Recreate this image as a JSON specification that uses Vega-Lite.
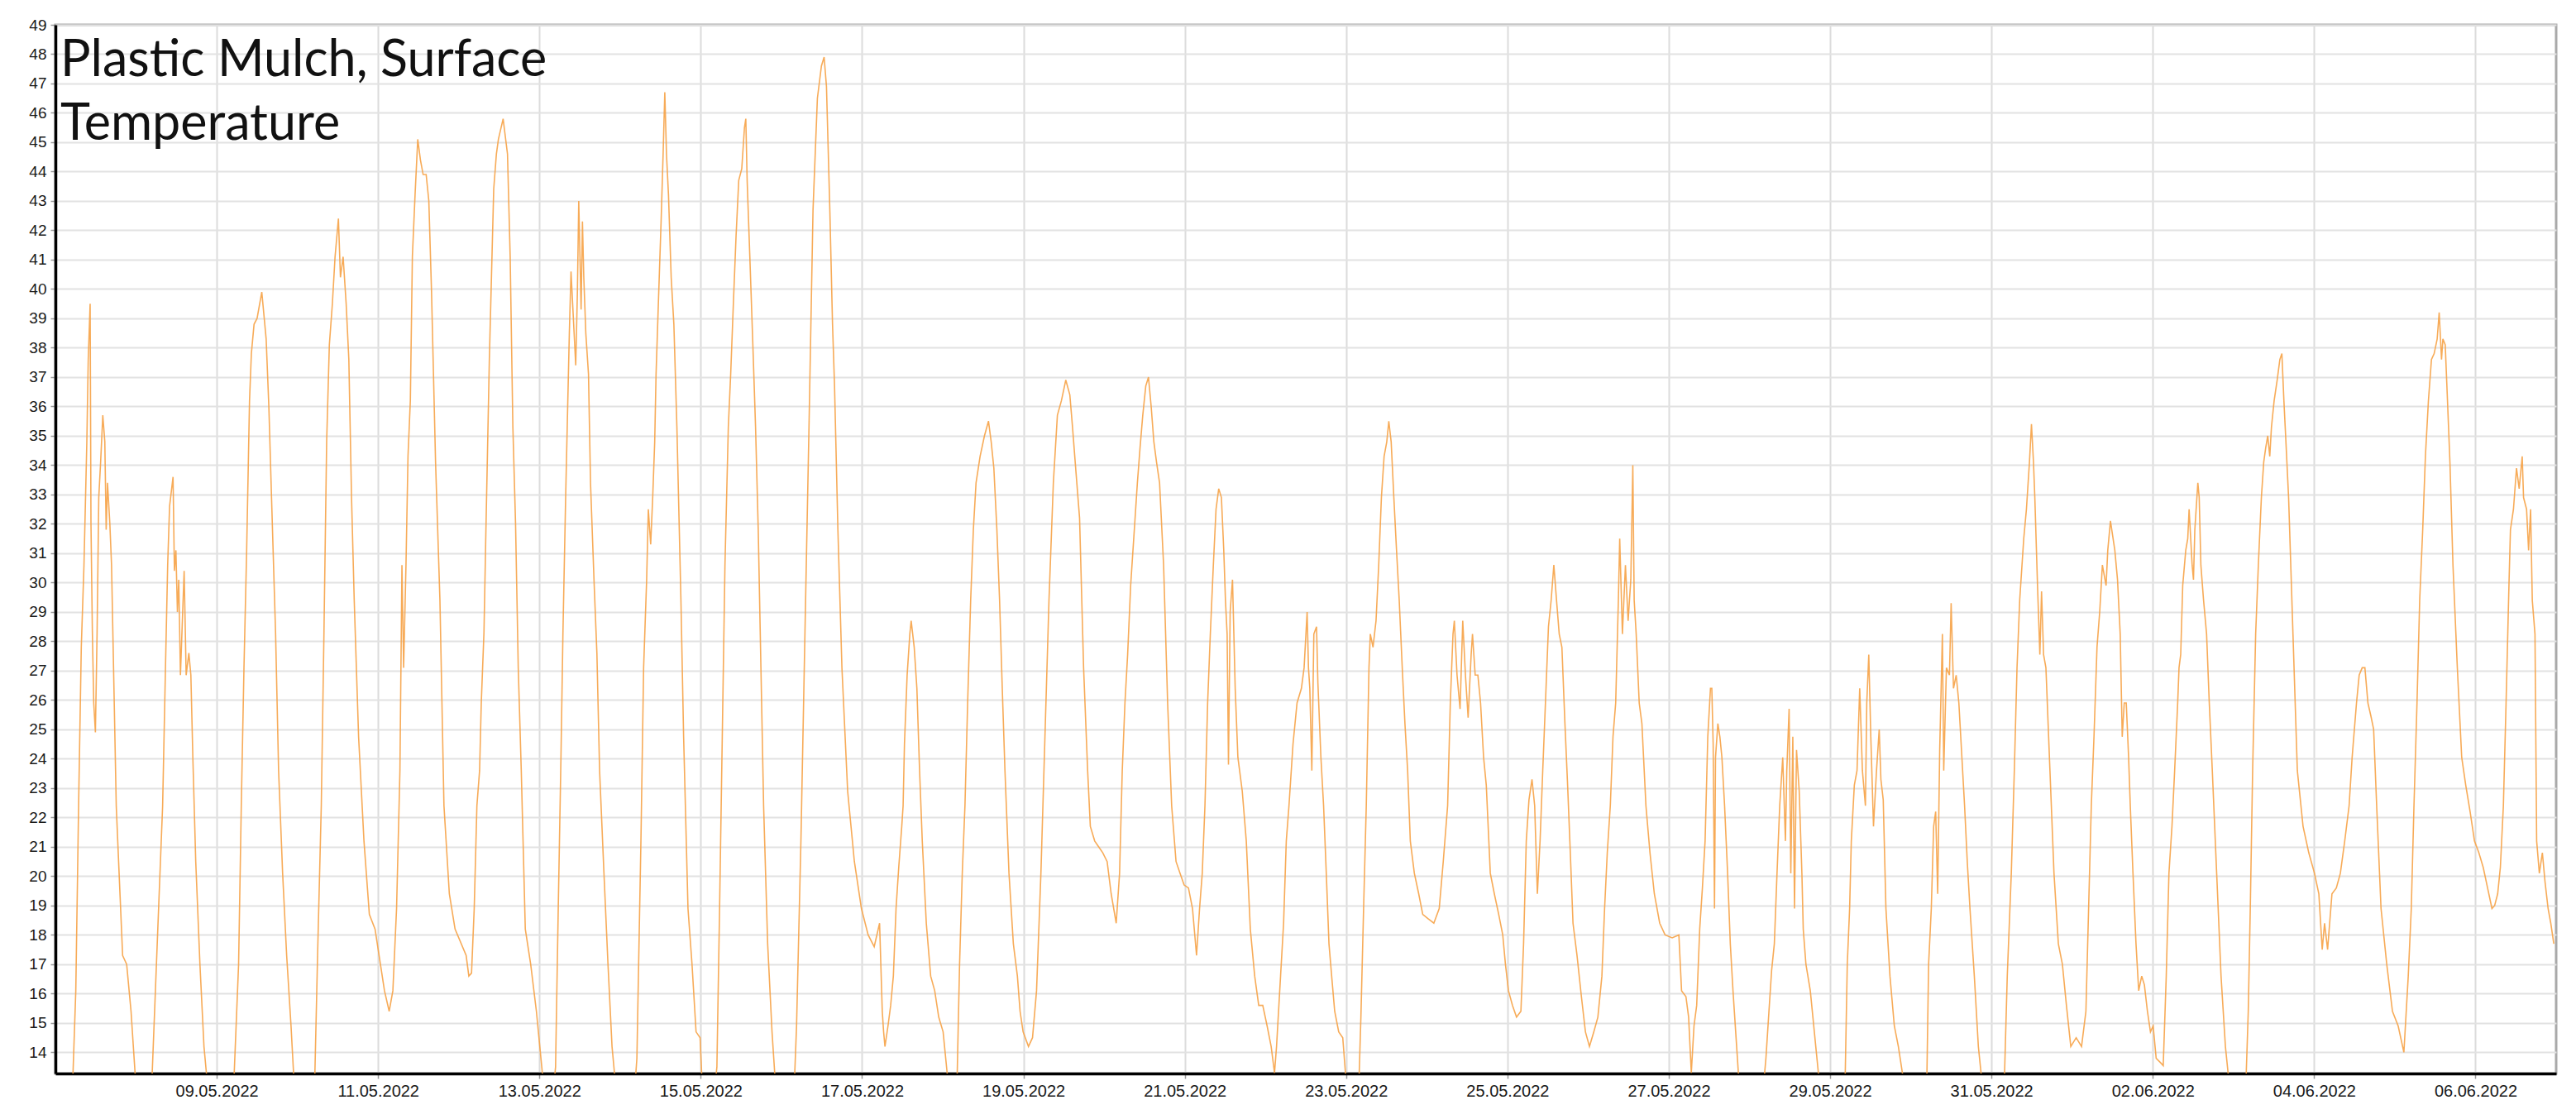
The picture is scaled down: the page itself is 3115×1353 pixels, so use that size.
{
"$schema": "https://vega.github.io/schema/vega-lite/v6.json",
"width": 3024, "height": 1268,
"autosize": {"type": "none"},
"padding": {"left": 67, "top": 30, "right": 24, "bottom": 55},
"background": "white",
"config": {"view": {"stroke": "#a9a9a9", "strokeWidth": 3}, "axis": {"labelOverlap": false}, "axisY": {"labelOverlap": false}},
"layer": [
{"data": {"values": [
{"t":"2022-05-07T05:00","v":12.5},{"t":"2022-05-07T06:04","v":16.1},{"t":"2022-05-07T06:54","v":22.4},{"t":"2022-05-07T07:42","v":27.8},{"t":"2022-05-07T08:30","v":30.6},{"t":"2022-05-07T09:21","v":34.8},{"t":"2022-05-07T09:46","v":37.6},{"t":"2022-05-07T10:20","v":39.5},{"t":"2022-05-07T10:35","v":32.0},{"t":"2022-05-07T11:00","v":28.3},{"t":"2022-05-07T11:24","v":25.9},{"t":"2022-05-07T11:54","v":24.9},{"t":"2022-05-07T12:24","v":28.3},{"t":"2022-05-07T12:54","v":32.9},{"t":"2022-05-07T13:27","v":34.1},{"t":"2022-05-07T14:06","v":35.7},{"t":"2022-05-07T14:42","v":34.8},{"t":"2022-05-07T15:06","v":31.8},{"t":"2022-05-07T15:30","v":33.4},{"t":"2022-05-07T16:12","v":32.0},{"t":"2022-05-07T16:42","v":30.6},{"t":"2022-05-07T17:18","v":27.1},{"t":"2022-05-07T18:06","v":22.4},{"t":"2022-05-07T18:57","v":20.1},{"t":"2022-05-07T20:00","v":17.3},{"t":"2022-05-07T21:12","v":17.0},{"t":"2022-05-07T22:30","v":15.4},{"t":"2022-05-07T23:42","v":13.3},
{"t":"2022-05-08T00:30","v":12.5},{"t":"2022-05-08T04:12","v":12.5},{"t":"2022-05-08T04:48","v":13.3},{"t":"2022-05-08T06:42","v":18.9},{"t":"2022-05-08T07:54","v":22.4},{"t":"2022-05-08T08:42","v":26.85},{"t":"2022-05-08T09:24","v":30.6},{"t":"2022-05-08T09:58","v":32.6},{"t":"2022-05-08T11:00","v":33.6},{"t":"2022-05-08T11:24","v":30.4},{"t":"2022-05-08T11:51","v":31.1},{"t":"2022-05-08T12:18","v":29.0},{"t":"2022-05-08T12:42","v":30.1},{"t":"2022-05-08T13:12","v":26.85},{"t":"2022-05-08T14:18","v":30.4},{"t":"2022-05-08T14:54","v":26.85},{"t":"2022-05-08T15:42","v":27.6},{"t":"2022-05-08T16:18","v":26.85},{"t":"2022-05-08T16:54","v":24.0},{"t":"2022-05-08T17:45","v":20.5},{"t":"2022-05-08T19:00","v":17.0},{"t":"2022-05-08T20:12","v":14.2},{"t":"2022-05-08T21:00","v":13.2},{"t":"2022-05-08T21:54","v":12.5},
{"t":"2022-05-09T04:24","v":12.5},{"t":"2022-05-09T05:12","v":13.3},{"t":"2022-05-09T06:30","v":17.0},{"t":"2022-05-09T07:18","v":22.4},{"t":"2022-05-09T08:06","v":27.1},{"t":"2022-05-09T08:54","v":31.1},{"t":"2022-05-09T09:45","v":36.2},{"t":"2022-05-09T10:18","v":37.8},{"t":"2022-05-09T11:06","v":38.8},{"t":"2022-05-09T12:00","v":39.0},{"t":"2022-05-09T13:24","v":39.9},{"t":"2022-05-09T14:42","v":38.3},{"t":"2022-05-09T15:30","v":36.0},{"t":"2022-05-09T16:18","v":32.9},{"t":"2022-05-09T17:30","v":28.3},{"t":"2022-05-09T18:24","v":23.6},{"t":"2022-05-09T19:36","v":20.1},{"t":"2022-05-09T20:48","v":17.3},{"t":"2022-05-09T22:06","v":14.9},{"t":"2022-05-09T22:54","v":13.2},{"t":"2022-05-09T23:42","v":12.5},
{"t":"2022-05-10T04:12","v":12.5},{"t":"2022-05-10T05:12","v":13.3},{"t":"2022-05-10T06:00","v":17.3},{"t":"2022-05-10T07:06","v":22.4},{"t":"2022-05-10T07:54","v":28.3},{"t":"2022-05-10T08:42","v":34.8},{"t":"2022-05-10T09:30","v":38.1},{"t":"2022-05-10T10:24","v":39.5},{"t":"2022-05-10T11:12","v":41.1},{"t":"2022-05-10T12:12","v":42.4},{"t":"2022-05-10T12:48","v":40.4},{"t":"2022-05-10T13:36","v":41.1},{"t":"2022-05-10T14:30","v":39.5},{"t":"2022-05-10T15:18","v":37.6},{"t":"2022-05-10T16:06","v":32.9},{"t":"2022-05-10T16:54","v":29.4},{"t":"2022-05-10T18:12","v":24.75},{"t":"2022-05-10T19:48","v":21.2},{"t":"2022-05-10T21:24","v":18.7},{"t":"2022-05-10T23:06","v":18.2},
{"t":"2022-05-11T00:18","v":17.3},{"t":"2022-05-11T01:54","v":16.1},{"t":"2022-05-11T03:18","v":15.4},{"t":"2022-05-11T04:24","v":16.1},{"t":"2022-05-11T05:30","v":18.9},{"t":"2022-05-11T06:30","v":23.6},{"t":"2022-05-11T07:06","v":30.6},{"t":"2022-05-11T07:36","v":27.1},{"t":"2022-05-11T08:18","v":30.6},{"t":"2022-05-11T08:54","v":34.3},{"t":"2022-05-11T09:36","v":36.2},{"t":"2022-05-11T10:12","v":41.1},{"t":"2022-05-11T11:00","v":43.2},{"t":"2022-05-11T11:48","v":45.1},{"t":"2022-05-11T12:36","v":44.4},{"t":"2022-05-11T13:24","v":43.9},{"t":"2022-05-11T14:18","v":43.9},{"t":"2022-05-11T15:06","v":43.0},{"t":"2022-05-11T15:54","v":39.9},{"t":"2022-05-11T17:06","v":34.1},{"t":"2022-05-11T18:24","v":29.4},{"t":"2022-05-11T19:36","v":22.4},{"t":"2022-05-11T21:12","v":19.4},{"t":"2022-05-11T22:54","v":18.2},
{"t":"2022-05-12T02:12","v":17.3},{"t":"2022-05-12T03:00","v":16.6},{"t":"2022-05-12T03:48","v":16.7},{"t":"2022-05-12T04:36","v":18.9},{"t":"2022-05-12T05:24","v":22.4},{"t":"2022-05-12T06:12","v":23.6},{"t":"2022-05-12T06:42","v":25.9},{"t":"2022-05-12T07:30","v":28.3},{"t":"2022-05-12T08:00","v":31.3},{"t":"2022-05-12T09:06","v":37.6},{"t":"2022-05-12T10:24","v":43.4},{"t":"2022-05-12T11:12","v":44.6},{"t":"2022-05-12T11:48","v":45.1},{"t":"2022-05-12T13:12","v":45.8},{"t":"2022-05-12T14:30","v":44.6},{"t":"2022-05-12T15:18","v":41.1},{"t":"2022-05-12T16:06","v":35.3},{"t":"2022-05-12T16:54","v":32.0},{"t":"2022-05-12T17:42","v":27.1},{"t":"2022-05-12T18:36","v":23.6},{"t":"2022-05-12T19:48","v":18.2},{"t":"2022-05-12T21:24","v":17.0},{"t":"2022-05-12T23:06","v":15.4},
{"t":"2022-05-13T00:42","v":13.5},{"t":"2022-05-13T01:30","v":12.5},{"t":"2022-05-13T04:00","v":12.5},{"t":"2022-05-13T04:48","v":13.5},{"t":"2022-05-13T05:36","v":18.9},{"t":"2022-05-13T06:24","v":24.0},{"t":"2022-05-13T07:00","v":28.3},{"t":"2022-05-13T07:48","v":32.9},{"t":"2022-05-13T08:54","v":38.5},{"t":"2022-05-13T09:24","v":40.6},{"t":"2022-05-13T10:06","v":39.0},{"t":"2022-05-13T10:48","v":37.4},{"t":"2022-05-13T11:18","v":39.9},{"t":"2022-05-13T11:42","v":43.0},{"t":"2022-05-13T12:24","v":39.3},{"t":"2022-05-13T12:48","v":42.3},{"t":"2022-05-13T13:12","v":40.4},{"t":"2022-05-13T13:48","v":38.5},{"t":"2022-05-13T14:36","v":37.1},{"t":"2022-05-13T15:12","v":33.4},{"t":"2022-05-13T16:18","v":29.9},{"t":"2022-05-13T17:06","v":27.6},{"t":"2022-05-13T17:54","v":23.6},{"t":"2022-05-13T19:12","v":20.1},{"t":"2022-05-13T20:24","v":17.0},{"t":"2022-05-13T21:36","v":14.2},{"t":"2022-05-13T22:24","v":13.2},{"t":"2022-05-13T23:18","v":12.5},
{"t":"2022-05-14T04:12","v":12.5},{"t":"2022-05-14T05:00","v":13.8},{"t":"2022-05-14T06:12","v":21.2},{"t":"2022-05-14T07:00","v":27.1},{"t":"2022-05-14T07:54","v":30.1},{"t":"2022-05-14T08:24","v":32.5},{"t":"2022-05-14T09:06","v":31.3},{"t":"2022-05-14T09:42","v":32.9},{"t":"2022-05-14T10:18","v":34.8},{"t":"2022-05-14T10:42","v":37.1},{"t":"2022-05-14T11:30","v":39.9},{"t":"2022-05-14T12:12","v":42.3},{"t":"2022-05-14T12:48","v":44.6},{"t":"2022-05-14T13:18","v":46.7},{"t":"2022-05-14T13:48","v":44.6},{"t":"2022-05-14T14:24","v":43.2},{"t":"2022-05-14T15:12","v":40.4},{"t":"2022-05-14T16:00","v":38.8},{"t":"2022-05-14T16:54","v":35.3},{"t":"2022-05-14T18:06","v":29.4},{"t":"2022-05-14T18:54","v":24.75},{"t":"2022-05-14T20:12","v":18.9},{"t":"2022-05-14T21:24","v":17.0},{"t":"2022-05-14T22:36","v":14.7},{"t":"2022-05-14T23:48","v":14.5},
{"t":"2022-05-15T00:18","v":13.2},{"t":"2022-05-15T01:06","v":12.5},{"t":"2022-05-15T03:54","v":12.5},{"t":"2022-05-15T04:48","v":13.5},{"t":"2022-05-15T05:36","v":18.9},{"t":"2022-05-15T06:24","v":24.75},{"t":"2022-05-15T07:12","v":30.6},{"t":"2022-05-15T08:12","v":35.3},{"t":"2022-05-15T08:54","v":37.1},{"t":"2022-05-15T09:42","v":39.5},{"t":"2022-05-15T10:30","v":41.8},{"t":"2022-05-15T11:18","v":43.7},{"t":"2022-05-15T12:12","v":44.1},{"t":"2022-05-15T13:00","v":45.5},{"t":"2022-05-15T13:24","v":45.8},{"t":"2022-05-15T13:48","v":43.7},{"t":"2022-05-15T14:36","v":41.1},{"t":"2022-05-15T15:30","v":38.1},{"t":"2022-05-15T16:18","v":35.3},{"t":"2022-05-15T17:06","v":31.8},{"t":"2022-05-15T17:54","v":27.1},{"t":"2022-05-15T18:42","v":22.4},{"t":"2022-05-15T19:54","v":17.7},{"t":"2022-05-15T21:12","v":14.7},{"t":"2022-05-15T22:00","v":13.3},{"t":"2022-05-15T22:48","v":12.5},
{"t":"2022-05-16T03:42","v":12.5},{"t":"2022-05-16T04:30","v":14.9},{"t":"2022-05-16T05:48","v":21.2},{"t":"2022-05-16T07:00","v":28.3},{"t":"2022-05-16T08:12","v":35.3},{"t":"2022-05-16T09:24","v":42.7},{"t":"2022-05-16T10:42","v":46.5},{"t":"2022-05-16T11:54","v":47.6},{"t":"2022-05-16T12:42","v":47.9},{"t":"2022-05-16T13:24","v":46.9},{"t":"2022-05-16T14:24","v":42.7},{"t":"2022-05-16T15:12","v":38.8},{"t":"2022-05-16T15:48","v":36.7},{"t":"2022-05-16T16:48","v":31.8},{"t":"2022-05-16T18:00","v":27.1},{"t":"2022-05-16T19:42","v":22.9},{"t":"2022-05-16T21:42","v":20.5},{"t":"2022-05-16T23:48","v":18.9},
{"t":"2022-05-17T01:48","v":18.0},{"t":"2022-05-17T03:36","v":17.6},{"t":"2022-05-17T05:12","v":18.4},{"t":"2022-05-17T06:00","v":15.4},{"t":"2022-05-17T06:24","v":14.7},{"t":"2022-05-17T06:48","v":14.2},{"t":"2022-05-17T07:42","v":14.9},{"t":"2022-05-17T08:30","v":15.6},{"t":"2022-05-17T09:18","v":16.6},{"t":"2022-05-17T10:06","v":18.9},{"t":"2022-05-17T10:54","v":20.3},{"t":"2022-05-17T11:48","v":21.7},{"t":"2022-05-17T12:12","v":22.4},{"t":"2022-05-17T12:36","v":24.5},{"t":"2022-05-17T13:24","v":26.85},{"t":"2022-05-17T14:12","v":28.25},{"t":"2022-05-17T14:36","v":28.7},{"t":"2022-05-17T15:30","v":27.8},{"t":"2022-05-17T16:18","v":26.4},{"t":"2022-05-17T17:06","v":23.6},{"t":"2022-05-17T17:54","v":21.2},{"t":"2022-05-17T19:06","v":18.4},{"t":"2022-05-17T20:24","v":16.6},{"t":"2022-05-17T21:36","v":16.1},{"t":"2022-05-17T22:48","v":15.2},
{"t":"2022-05-18T00:06","v":14.7},{"t":"2022-05-18T01:18","v":13.3},{"t":"2022-05-18T02:06","v":12.5},{"t":"2022-05-18T03:48","v":12.5},{"t":"2022-05-18T04:18","v":13.3},{"t":"2022-05-18T05:00","v":17.0},{"t":"2022-05-18T05:48","v":20.1},{"t":"2022-05-18T06:36","v":22.4},{"t":"2022-05-18T07:24","v":25.9},{"t":"2022-05-18T08:18","v":29.4},{"t":"2022-05-18T09:06","v":31.8},{"t":"2022-05-18T09:54","v":33.4},{"t":"2022-05-18T11:06","v":34.3},{"t":"2022-05-18T12:24","v":35.0},{"t":"2022-05-18T13:36","v":35.5},{"t":"2022-05-18T14:24","v":34.8},{"t":"2022-05-18T15:12","v":33.9},{"t":"2022-05-18T16:06","v":31.8},{"t":"2022-05-18T16:54","v":29.4},{"t":"2022-05-18T17:42","v":26.4},{"t":"2022-05-18T18:30","v":23.6},{"t":"2022-05-18T19:42","v":20.1},{"t":"2022-05-18T21:00","v":17.7},{"t":"2022-05-18T22:12","v":16.6},{"t":"2022-05-18T23:00","v":15.4},{"t":"2022-05-18T23:54","v":14.7},
{"t":"2022-05-19T01:30","v":14.2},{"t":"2022-05-19T02:42","v":14.5},{"t":"2022-05-19T03:54","v":16.1},{"t":"2022-05-19T05:12","v":20.1},{"t":"2022-05-19T06:24","v":24.75},{"t":"2022-05-19T07:36","v":29.4},{"t":"2022-05-19T08:54","v":33.4},{"t":"2022-05-19T10:06","v":35.7},{"t":"2022-05-19T11:18","v":36.2},{"t":"2022-05-19T12:36","v":36.9},{"t":"2022-05-19T13:48","v":36.4},{"t":"2022-05-19T14:36","v":35.3},{"t":"2022-05-19T15:24","v":34.1},{"t":"2022-05-19T16:42","v":32.2},{"t":"2022-05-19T17:54","v":27.1},{"t":"2022-05-19T19:06","v":23.6},{"t":"2022-05-19T19:54","v":21.7},{"t":"2022-05-19T21:12","v":21.2},{"t":"2022-05-19T22:24","v":21.0},{"t":"2022-05-19T23:36","v":20.8},
{"t":"2022-05-20T00:54","v":20.5},{"t":"2022-05-20T02:06","v":19.4},{"t":"2022-05-20T03:36","v":18.4},{"t":"2022-05-20T04:36","v":20.1},{"t":"2022-05-20T05:24","v":23.6},{"t":"2022-05-20T06:12","v":25.9},{"t":"2022-05-20T07:00","v":27.55},{"t":"2022-05-20T07:54","v":29.9},{"t":"2022-05-20T09:06","v":32.0},{"t":"2022-05-20T09:54","v":33.4},{"t":"2022-05-20T10:42","v":34.6},{"t":"2022-05-20T11:30","v":35.7},{"t":"2022-05-20T12:24","v":36.7},{"t":"2022-05-20T13:12","v":37.0},{"t":"2022-05-20T14:00","v":36.0},{"t":"2022-05-20T14:48","v":34.8},{"t":"2022-05-20T15:36","v":34.1},{"t":"2022-05-20T16:30","v":33.4},{"t":"2022-05-20T17:42","v":30.6},{"t":"2022-05-20T18:54","v":25.9},{"t":"2022-05-20T20:06","v":22.4},{"t":"2022-05-20T21:24","v":20.5},{"t":"2022-05-20T22:36","v":20.1},{"t":"2022-05-20T23:48","v":19.7},
{"t":"2022-05-21T01:06","v":19.6},{"t":"2022-05-21T02:18","v":18.9},{"t":"2022-05-21T03:30","v":17.3},{"t":"2022-05-21T04:24","v":18.9},{"t":"2022-05-21T05:12","v":20.1},{"t":"2022-05-21T06:00","v":22.4},{"t":"2022-05-21T06:48","v":25.9},{"t":"2022-05-21T07:36","v":28.25},{"t":"2022-05-21T08:30","v":30.6},{"t":"2022-05-21T09:18","v":32.5},{"t":"2022-05-21T10:06","v":33.2},{"t":"2022-05-21T10:54","v":32.9},{"t":"2022-05-21T11:36","v":31.1},{"t":"2022-05-21T12:06","v":29.4},{"t":"2022-05-21T12:36","v":28.25},{"t":"2022-05-21T13:00","v":23.8},{"t":"2022-05-21T13:30","v":29.0},{"t":"2022-05-21T14:12","v":30.1},{"t":"2022-05-21T14:36","v":28.25},{"t":"2022-05-21T15:00","v":26.4},{"t":"2022-05-21T15:48","v":24.05},{"t":"2022-05-21T17:06","v":22.9},{"t":"2022-05-21T18:18","v":21.2},{"t":"2022-05-21T19:30","v":18.2},{"t":"2022-05-21T20:48","v":16.6},{"t":"2022-05-21T22:00","v":15.6},{"t":"2022-05-21T23:12","v":15.6},
{"t":"2022-05-22T00:30","v":14.9},{"t":"2022-05-22T01:42","v":14.2},{"t":"2022-05-22T02:42","v":13.3},{"t":"2022-05-22T03:18","v":14.2},{"t":"2022-05-22T04:30","v":16.6},{"t":"2022-05-22T05:24","v":18.4},{"t":"2022-05-22T06:12","v":21.2},{"t":"2022-05-22T07:00","v":22.4},{"t":"2022-05-22T08:12","v":24.5},{"t":"2022-05-22T09:24","v":25.9},{"t":"2022-05-22T10:42","v":26.4},{"t":"2022-05-22T11:30","v":27.1},{"t":"2022-05-22T12:24","v":29.0},{"t":"2022-05-22T12:48","v":27.1},{"t":"2022-05-22T13:12","v":26.4},{"t":"2022-05-22T13:48","v":23.6},{"t":"2022-05-22T14:24","v":28.25},{"t":"2022-05-22T15:12","v":28.5},{"t":"2022-05-22T15:36","v":26.6},{"t":"2022-05-22T16:30","v":24.05},{"t":"2022-05-22T17:18","v":22.4},{"t":"2022-05-22T18:06","v":20.1},{"t":"2022-05-22T18:54","v":17.7},{"t":"2022-05-22T19:42","v":16.6},{"t":"2022-05-22T20:36","v":15.4},{"t":"2022-05-22T21:48","v":14.7},{"t":"2022-05-22T23:00","v":14.5},{"t":"2022-05-22T23:48","v":13.3},
{"t":"2022-05-23T00:42","v":12.5},{"t":"2022-05-23T03:06","v":12.5},{"t":"2022-05-23T03:54","v":13.3},{"t":"2022-05-23T04:24","v":15.2},{"t":"2022-05-23T05:12","v":18.9},{"t":"2022-05-23T06:00","v":22.4},{"t":"2022-05-23T06:48","v":27.1},{"t":"2022-05-23T07:12","v":28.25},{"t":"2022-05-23T08:00","v":27.8},{"t":"2022-05-23T08:54","v":28.7},{"t":"2022-05-23T09:42","v":30.6},{"t":"2022-05-23T10:30","v":32.9},{"t":"2022-05-23T11:18","v":34.3},{"t":"2022-05-23T12:06","v":34.8},{"t":"2022-05-23T12:42","v":35.5},{"t":"2022-05-23T13:24","v":34.8},{"t":"2022-05-23T14:12","v":32.9},{"t":"2022-05-23T15:00","v":31.1},{"t":"2022-05-23T15:48","v":29.4},{"t":"2022-05-23T16:42","v":27.1},{"t":"2022-05-23T17:30","v":25.2},{"t":"2022-05-23T18:18","v":23.6},{"t":"2022-05-23T19:06","v":21.2},{"t":"2022-05-23T20:18","v":20.1},{"t":"2022-05-23T21:36","v":19.4},{"t":"2022-05-23T22:48","v":18.7},
{"t":"2022-05-24T00:24","v":18.55},{"t":"2022-05-24T02:06","v":18.4},{"t":"2022-05-24T03:42","v":18.9},{"t":"2022-05-24T04:54","v":20.5},{"t":"2022-05-24T06:12","v":22.4},{"t":"2022-05-24T07:00","v":25.9},{"t":"2022-05-24T07:48","v":28.25},{"t":"2022-05-24T08:12","v":28.7},{"t":"2022-05-24T09:00","v":26.85},{"t":"2022-05-24T09:54","v":25.7},{"t":"2022-05-24T10:42","v":28.7},{"t":"2022-05-24T11:30","v":26.85},{"t":"2022-05-24T12:18","v":25.4},{"t":"2022-05-24T13:12","v":27.55},{"t":"2022-05-24T13:36","v":28.25},{"t":"2022-05-24T14:24","v":26.85},{"t":"2022-05-24T15:12","v":26.85},{"t":"2022-05-24T16:00","v":25.9},{"t":"2022-05-24T16:54","v":24.05},{"t":"2022-05-24T17:42","v":23.1},{"t":"2022-05-24T18:54","v":20.1},{"t":"2022-05-24T20:06","v":19.4},{"t":"2022-05-24T21:24","v":18.7},{"t":"2022-05-24T22:36","v":18.0},{"t":"2022-05-24T23:24","v":17.0},
{"t":"2022-05-25T00:18","v":16.1},{"t":"2022-05-25T01:30","v":15.6},{"t":"2022-05-25T02:42","v":15.2},{"t":"2022-05-25T04:00","v":15.4},{"t":"2022-05-25T04:48","v":17.7},{"t":"2022-05-25T05:36","v":21.2},{"t":"2022-05-25T06:24","v":22.6},{"t":"2022-05-25T07:18","v":23.3},{"t":"2022-05-25T08:06","v":22.4},{"t":"2022-05-25T08:54","v":19.4},{"t":"2022-05-25T09:42","v":21.2},{"t":"2022-05-25T10:30","v":23.6},{"t":"2022-05-25T11:18","v":25.9},{"t":"2022-05-25T12:12","v":28.5},{"t":"2022-05-25T13:00","v":29.4},{"t":"2022-05-25T13:48","v":30.6},{"t":"2022-05-25T14:36","v":29.4},{"t":"2022-05-25T15:24","v":28.25},{"t":"2022-05-25T16:12","v":27.8},{"t":"2022-05-25T17:06","v":25.2},{"t":"2022-05-25T17:54","v":23.1},{"t":"2022-05-25T18:42","v":20.8},{"t":"2022-05-25T19:30","v":18.4},{"t":"2022-05-25T20:42","v":17.3},{"t":"2022-05-25T22:00","v":15.9},{"t":"2022-05-25T23:12","v":14.7},
{"t":"2022-05-26T00:24","v":14.2},{"t":"2022-05-26T01:42","v":14.7},{"t":"2022-05-26T02:54","v":15.2},{"t":"2022-05-26T04:06","v":16.6},{"t":"2022-05-26T04:54","v":18.9},{"t":"2022-05-26T05:42","v":20.8},{"t":"2022-05-26T06:36","v":22.4},{"t":"2022-05-26T07:24","v":24.75},{"t":"2022-05-26T08:12","v":25.9},{"t":"2022-05-26T09:00","v":29.4},{"t":"2022-05-26T09:24","v":31.5},{"t":"2022-05-26T10:12","v":28.25},{"t":"2022-05-26T11:06","v":30.6},{"t":"2022-05-26T11:54","v":28.7},{"t":"2022-05-26T12:42","v":30.1},{"t":"2022-05-26T13:18","v":34.0},{"t":"2022-05-26T13:42","v":29.4},{"t":"2022-05-26T14:18","v":28.25},{"t":"2022-05-26T15:12","v":25.9},{"t":"2022-05-26T16:00","v":25.2},{"t":"2022-05-26T17:12","v":22.4},{"t":"2022-05-26T18:24","v":20.8},{"t":"2022-05-26T19:42","v":19.4},{"t":"2022-05-26T21:18","v":18.4},{"t":"2022-05-26T22:54","v":18.0},
{"t":"2022-05-27T01:00","v":17.9},{"t":"2022-05-27T03:00","v":18.0},{"t":"2022-05-27T03:48","v":16.1},{"t":"2022-05-27T05:06","v":15.9},{"t":"2022-05-27T05:54","v":15.2},{"t":"2022-05-27T06:42","v":13.3},{"t":"2022-05-27T07:30","v":14.9},{"t":"2022-05-27T08:18","v":15.6},{"t":"2022-05-27T09:12","v":18.2},{"t":"2022-05-27T10:00","v":19.6},{"t":"2022-05-27T10:48","v":21.2},{"t":"2022-05-27T11:36","v":24.75},{"t":"2022-05-27T12:24","v":26.4},{"t":"2022-05-27T12:48","v":26.4},{"t":"2022-05-27T13:12","v":24.5},{"t":"2022-05-27T13:36","v":18.9},{"t":"2022-05-27T13:54","v":24.05},{"t":"2022-05-27T14:36","v":25.2},{"t":"2022-05-27T15:12","v":24.75},{"t":"2022-05-27T15:48","v":24.05},{"t":"2022-05-27T16:36","v":22.4},{"t":"2022-05-27T17:30","v":20.1},{"t":"2022-05-27T18:18","v":17.7},{"t":"2022-05-27T19:06","v":16.1},{"t":"2022-05-27T19:54","v":14.7},{"t":"2022-05-27T20:42","v":13.3},{"t":"2022-05-27T21:30","v":12.5},
{"t":"2022-05-28T03:54","v":12.5},{"t":"2022-05-28T04:54","v":13.8},{"t":"2022-05-28T05:48","v":15.4},{"t":"2022-05-28T06:36","v":16.8},{"t":"2022-05-28T07:24","v":17.7},{"t":"2022-05-28T08:12","v":20.1},{"t":"2022-05-28T09:00","v":22.4},{"t":"2022-05-28T09:54","v":24.05},{"t":"2022-05-28T10:42","v":21.2},{"t":"2022-05-28T11:06","v":23.6},{"t":"2022-05-28T11:48","v":25.7},{"t":"2022-05-28T12:18","v":20.1},{"t":"2022-05-28T12:54","v":24.75},{"t":"2022-05-28T13:24","v":18.9},{"t":"2022-05-28T14:00","v":24.3},{"t":"2022-05-28T14:48","v":22.9},{"t":"2022-05-28T15:36","v":20.1},{"t":"2022-05-28T16:00","v":18.2},{"t":"2022-05-28T16:48","v":17.0},{"t":"2022-05-28T18:06","v":16.1},{"t":"2022-05-28T19:18","v":14.7},{"t":"2022-05-28T20:30","v":13.3},{"t":"2022-05-28T21:18","v":12.5},
{"t":"2022-05-29T03:30","v":12.5},{"t":"2022-05-29T04:30","v":13.3},{"t":"2022-05-29T05:06","v":17.0},{"t":"2022-05-29T05:48","v":18.9},{"t":"2022-05-29T06:18","v":21.2},{"t":"2022-05-29T07:12","v":23.1},{"t":"2022-05-29T08:00","v":23.6},{"t":"2022-05-29T08:48","v":26.4},{"t":"2022-05-29T09:36","v":23.6},{"t":"2022-05-29T10:30","v":22.4},{"t":"2022-05-29T10:54","v":25.9},{"t":"2022-05-29T11:30","v":27.55},{"t":"2022-05-29T12:06","v":24.75},{"t":"2022-05-29T12:54","v":21.7},{"t":"2022-05-29T13:48","v":23.6},{"t":"2022-05-29T14:36","v":25.0},{"t":"2022-05-29T15:06","v":23.3},{"t":"2022-05-29T15:48","v":22.6},{"t":"2022-05-29T16:36","v":18.9},{"t":"2022-05-29T17:48","v":16.6},{"t":"2022-05-29T19:06","v":14.9},{"t":"2022-05-29T20:18","v":14.2},{"t":"2022-05-29T21:30","v":13.3},{"t":"2022-05-29T22:18","v":12.5},
{"t":"2022-05-30T04:06","v":12.5},{"t":"2022-05-30T04:48","v":13.3},{"t":"2022-05-30T05:18","v":17.0},{"t":"2022-05-30T06:06","v":18.9},{"t":"2022-05-30T06:48","v":21.7},{"t":"2022-05-30T07:24","v":22.2},{"t":"2022-05-30T08:00","v":19.4},{"t":"2022-05-30T08:36","v":24.3},{"t":"2022-05-30T09:24","v":28.25},{"t":"2022-05-30T09:48","v":23.6},{"t":"2022-05-30T10:36","v":27.1},{"t":"2022-05-30T11:30","v":26.85},{"t":"2022-05-30T12:00","v":29.3},{"t":"2022-05-30T12:42","v":26.4},{"t":"2022-05-30T13:30","v":26.85},{"t":"2022-05-30T14:18","v":25.9},{"t":"2022-05-30T15:12","v":24.05},{"t":"2022-05-30T16:00","v":22.4},{"t":"2022-05-30T16:48","v":20.5},{"t":"2022-05-30T17:36","v":18.9},{"t":"2022-05-30T18:54","v":16.6},{"t":"2022-05-30T20:06","v":14.2},{"t":"2022-05-30T20:54","v":13.3},{"t":"2022-05-30T21:48","v":12.5},
{"t":"2022-05-31T02:54","v":12.5},{"t":"2022-05-31T03:54","v":13.3},{"t":"2022-05-31T04:42","v":16.6},{"t":"2022-05-31T05:54","v":20.1},{"t":"2022-05-31T06:48","v":23.6},{"t":"2022-05-31T07:36","v":27.1},{"t":"2022-05-31T08:24","v":29.4},{"t":"2022-05-31T09:36","v":31.5},{"t":"2022-05-31T10:24","v":32.5},{"t":"2022-05-31T11:18","v":34.1},{"t":"2022-05-31T11:54","v":35.4},{"t":"2022-05-31T12:30","v":34.1},{"t":"2022-05-31T12:54","v":32.9},{"t":"2022-05-31T13:42","v":29.9},{"t":"2022-05-31T14:24","v":27.55},{"t":"2022-05-31T14:54","v":29.7},{"t":"2022-05-31T15:30","v":27.55},{"t":"2022-05-31T16:12","v":27.1},{"t":"2022-05-31T17:24","v":23.6},{"t":"2022-05-31T18:36","v":20.1},{"t":"2022-05-31T19:54","v":17.7},{"t":"2022-05-31T21:06","v":17.0},{"t":"2022-05-31T22:18","v":15.6},{"t":"2022-05-31T23:36","v":14.2},
{"t":"2022-06-01T01:12","v":14.5},{"t":"2022-06-01T02:48","v":14.2},{"t":"2022-06-01T04:06","v":15.4},{"t":"2022-06-01T04:54","v":18.9},{"t":"2022-06-01T05:42","v":22.4},{"t":"2022-06-01T06:30","v":24.75},{"t":"2022-06-01T07:24","v":27.8},{"t":"2022-06-01T08:12","v":29.0},{"t":"2022-06-01T09:00","v":30.6},{"t":"2022-06-01T10:06","v":29.9},{"t":"2022-06-01T10:36","v":31.1},{"t":"2022-06-01T11:24","v":32.1},{"t":"2022-06-01T12:42","v":31.1},{"t":"2022-06-01T13:30","v":30.1},{"t":"2022-06-01T13:48","v":29.4},{"t":"2022-06-01T14:18","v":28.25},{"t":"2022-06-01T14:54","v":24.75},{"t":"2022-06-01T15:30","v":25.9},{"t":"2022-06-01T16:06","v":25.9},{"t":"2022-06-01T16:48","v":24.05},{"t":"2022-06-01T17:18","v":22.4},{"t":"2022-06-01T18:06","v":20.1},{"t":"2022-06-01T19:00","v":17.7},{"t":"2022-06-01T19:48","v":16.1},{"t":"2022-06-01T20:42","v":16.6},{"t":"2022-06-01T21:30","v":16.3},{"t":"2022-06-01T22:24","v":15.4},{"t":"2022-06-01T23:18","v":14.7},
{"t":"2022-06-02T00:06","v":14.9},{"t":"2022-06-02T01:00","v":13.8},{"t":"2022-06-02T02:18","v":13.65},{"t":"2022-06-02T03:06","v":13.55},{"t":"2022-06-02T04:00","v":16.6},{"t":"2022-06-02T04:48","v":20.1},{"t":"2022-06-02T05:42","v":21.7},{"t":"2022-06-02T06:30","v":23.6},{"t":"2022-06-02T07:24","v":25.9},{"t":"2022-06-02T07:48","v":27.1},{"t":"2022-06-02T08:18","v":27.55},{"t":"2022-06-02T08:54","v":29.9},{"t":"2022-06-02T09:48","v":31.1},{"t":"2022-06-02T10:24","v":31.5},{"t":"2022-06-02T10:48","v":32.5},{"t":"2022-06-02T11:42","v":30.6},{"t":"2022-06-02T12:06","v":30.1},{"t":"2022-06-02T12:30","v":31.8},{"t":"2022-06-02T13:24","v":33.4},{"t":"2022-06-02T13:48","v":32.9},{"t":"2022-06-02T14:18","v":30.6},{"t":"2022-06-02T15:06","v":29.4},{"t":"2022-06-02T16:00","v":28.25},{"t":"2022-06-02T16:48","v":25.9},{"t":"2022-06-02T17:42","v":23.6},{"t":"2022-06-02T19:00","v":20.1},{"t":"2022-06-02T20:18","v":16.6},{"t":"2022-06-02T21:36","v":14.2},{"t":"2022-06-02T22:24","v":13.3},{"t":"2022-06-02T23:18","v":12.5},
{"t":"2022-06-03T03:06","v":12.5},{"t":"2022-06-03T03:48","v":13.3},{"t":"2022-06-03T04:24","v":15.4},{"t":"2022-06-03T05:00","v":18.9},{"t":"2022-06-03T05:42","v":23.6},{"t":"2022-06-03T06:36","v":28.25},{"t":"2022-06-03T07:24","v":30.6},{"t":"2022-06-03T08:18","v":32.9},{"t":"2022-06-03T09:00","v":34.1},{"t":"2022-06-03T09:36","v":34.6},{"t":"2022-06-03T10:12","v":35.0},{"t":"2022-06-03T10:48","v":34.3},{"t":"2022-06-03T11:18","v":35.3},{"t":"2022-06-03T12:06","v":36.2},{"t":"2022-06-03T13:00","v":36.9},{"t":"2022-06-03T13:48","v":37.6},{"t":"2022-06-03T14:24","v":37.8},{"t":"2022-06-03T15:00","v":36.2},{"t":"2022-06-03T15:36","v":34.8},{"t":"2022-06-03T16:24","v":32.9},{"t":"2022-06-03T17:42","v":28.25},{"t":"2022-06-03T19:00","v":23.6},{"t":"2022-06-03T20:42","v":21.7},{"t":"2022-06-03T22:24","v":20.8},
{"t":"2022-06-04T00:06","v":20.1},{"t":"2022-06-04T01:24","v":19.4},{"t":"2022-06-04T02:24","v":17.5},{"t":"2022-06-04T03:06","v":18.4},{"t":"2022-06-04T04:00","v":17.5},{"t":"2022-06-04T05:18","v":19.4},{"t":"2022-06-04T06:36","v":19.6},{"t":"2022-06-04T07:48","v":20.1},{"t":"2022-06-04T09:06","v":21.2},{"t":"2022-06-04T10:24","v":22.4},{"t":"2022-06-04T11:18","v":24.05},{"t":"2022-06-04T12:36","v":25.9},{"t":"2022-06-04T13:24","v":26.85},{"t":"2022-06-04T14:18","v":27.1},{"t":"2022-06-04T15:06","v":27.1},{"t":"2022-06-04T16:00","v":25.9},{"t":"2022-06-04T16:54","v":25.45},{"t":"2022-06-04T17:42","v":25.0},{"t":"2022-06-04T18:36","v":22.4},{"t":"2022-06-04T19:54","v":18.9},{"t":"2022-06-04T21:36","v":17.0},{"t":"2022-06-04T23:18","v":15.4},
{"t":"2022-06-05T01:00","v":14.9},{"t":"2022-06-05T02:42","v":14.0},{"t":"2022-06-05T04:00","v":16.6},{"t":"2022-06-05T04:54","v":18.9},{"t":"2022-06-05T05:42","v":22.4},{"t":"2022-06-05T06:36","v":25.9},{"t":"2022-06-05T07:24","v":29.4},{"t":"2022-06-05T08:18","v":31.8},{"t":"2022-06-05T09:06","v":34.3},{"t":"2022-06-05T10:00","v":36.2},{"t":"2022-06-05T10:54","v":37.6},{"t":"2022-06-05T11:42","v":37.8},{"t":"2022-06-05T12:36","v":38.3},{"t":"2022-06-05T13:12","v":39.2},{"t":"2022-06-05T13:54","v":37.6},{"t":"2022-06-05T14:18","v":38.3},{"t":"2022-06-05T15:00","v":38.1},{"t":"2022-06-05T15:36","v":36.4},{"t":"2022-06-05T16:24","v":34.1},{"t":"2022-06-05T17:18","v":30.6},{"t":"2022-06-05T18:36","v":27.1},{"t":"2022-06-05T19:54","v":24.05},{"t":"2022-06-05T21:06","v":23.1},{"t":"2022-06-05T22:24","v":22.2},{"t":"2022-06-05T23:42","v":21.2},
{"t":"2022-06-06T01:00","v":20.8},{"t":"2022-06-06T02:18","v":20.3},{"t":"2022-06-06T03:36","v":19.6},{"t":"2022-06-06T04:54","v":18.9},{"t":"2022-06-06T05:42","v":19.0},{"t":"2022-06-06T06:36","v":19.4},{"t":"2022-06-06T07:24","v":20.3},{"t":"2022-06-06T08:18","v":22.4},{"t":"2022-06-06T09:06","v":25.9},{"t":"2022-06-06T10:00","v":30.1},{"t":"2022-06-06T10:24","v":31.8},{"t":"2022-06-06T11:18","v":32.5},{"t":"2022-06-06T12:12","v":33.9},{"t":"2022-06-06T13:00","v":33.2},{"t":"2022-06-06T13:54","v":34.3},{"t":"2022-06-06T14:18","v":32.9},{"t":"2022-06-06T15:12","v":32.5},{"t":"2022-06-06T15:48","v":31.1},{"t":"2022-06-06T16:24","v":32.5},{"t":"2022-06-06T16:54","v":29.4},{"t":"2022-06-06T17:42","v":28.25},{"t":"2022-06-06T18:12","v":21.2},{"t":"2022-06-06T19:00","v":20.1},{"t":"2022-06-06T19:54","v":20.8},{"t":"2022-06-06T20:42","v":19.8},{"t":"2022-06-06T21:36","v":18.9},{"t":"2022-06-06T22:24","v":18.4},{"t":"2022-06-06T23:18","v":17.7}
]},
"mark": {"type": "line", "color": "#f6a246", "strokeWidth": 1.6, "opacity": 0.9, "clip": true},
"encoding": {
"x": {"field": "t", "type": "temporal",
 "scale": {"domain": [{"year": 2022, "month": 5, "date": 7}, {"year": 2022, "month": 6, "date": 7}], "nice": false},
 "axis": {"title": null, "format": "%d.%m.%Y",
  "values": [{"year":2022,"month":5,"date":9},{"year":2022,"month":5,"date":11},{"year":2022,"month":5,"date":13},{"year":2022,"month":5,"date":15},{"year":2022,"month":5,"date":17},{"year":2022,"month":5,"date":19},{"year":2022,"month":5,"date":21},{"year":2022,"month":5,"date":23},{"year":2022,"month":5,"date":25},{"year":2022,"month":5,"date":27},{"year":2022,"month":5,"date":29},{"year":2022,"month":5,"date":31},{"year":2022,"month":6,"date":2},{"year":2022,"month":6,"date":4},{"year":2022,"month":6,"date":6}],
  "labelFont": "Liberation Sans", "labelFontSize": 20, "labelColor": "#1a1a1a", "labelPadding": 5, "labelOverlap": false, "labelFlush": false,
  "tickSize": 6, "tickColor": "#9a9a9a", "tickWidth": 1.5,
  "domainColor": "#000000", "domainWidth": 3.5,
  "grid": true, "gridColor": "#dcdcdc", "gridWidth": 2}},
"y": {"field": "v", "type": "quantitative",
 "scale": {"domain": [13.28, 49], "nice": false, "zero": false},
 "axis": {"title": null,
  "values": [14,15,16,17,18,19,20,21,22,23,24,25,26,27,28,29,30,31,32,33,34,35,36,37,38,39,40,41,42,43,44,45,46,47,48,49],
  "labelFont": "Liberation Sans", "labelFontSize": 19, "labelColor": "#1a1a1a", "labelPadding": 5, "labelOverlap": false, "labelBound": false, "labelFlush": false, "labelSeparation": 0,
  "tickSize": 6, "tickColor": "#9a9a9a", "tickWidth": 1.5,
  "domainColor": "#000000", "domainWidth": 3.5,
  "grid": true, "gridColor": "#e2e2e2", "gridWidth": 2}}
}},
{"data": {"values": [{"label": "title"}]},
"mark": {"type": "text", "text": ["Plastic Mulch, Surface", "Temperature"], "font": "Lato", "fontSize": 61, "color": "#111111", "align": "left", "baseline": "alphabetic", "lineHeight": 77},
"encoding": {
"x": {"datum": {"year": 2022, "month": 5, "date": 7, "hours": 1, "minutes": 30}, "type": "temporal",
 "axis": {"title": null, "format": "%d.%m.%Y",
  "values": [{"year":2022,"month":5,"date":9},{"year":2022,"month":5,"date":11},{"year":2022,"month":5,"date":13},{"year":2022,"month":5,"date":15},{"year":2022,"month":5,"date":17},{"year":2022,"month":5,"date":19},{"year":2022,"month":5,"date":21},{"year":2022,"month":5,"date":23},{"year":2022,"month":5,"date":25},{"year":2022,"month":5,"date":27},{"year":2022,"month":5,"date":29},{"year":2022,"month":5,"date":31},{"year":2022,"month":6,"date":2},{"year":2022,"month":6,"date":4},{"year":2022,"month":6,"date":6}],
  "labelFont": "Liberation Sans", "labelFontSize": 20, "labelColor": "#1a1a1a", "labelPadding": 5, "labelOverlap": false, "labelFlush": false,
  "tickSize": 6, "tickColor": "#9a9a9a", "tickWidth": 1.5,
  "domainColor": "#000000", "domainWidth": 3.5,
  "grid": true, "gridColor": "#dcdcdc", "gridWidth": 2}},
"y": {"datum": 47.25, "type": "quantitative",
 "axis": {"title": null,
  "values": [14,15,16,17,18,19,20,21,22,23,24,25,26,27,28,29,30,31,32,33,34,35,36,37,38,39,40,41,42,43,44,45,46,47,48,49],
  "labelFont": "Liberation Sans", "labelFontSize": 19, "labelColor": "#1a1a1a", "labelPadding": 5, "labelOverlap": false, "labelBound": false, "labelFlush": false, "labelSeparation": 0,
  "tickSize": 6, "tickColor": "#9a9a9a", "tickWidth": 1.5,
  "domainColor": "#000000", "domainWidth": 3.5,
  "grid": true, "gridColor": "#e2e2e2", "gridWidth": 2}}
}}
]
}
